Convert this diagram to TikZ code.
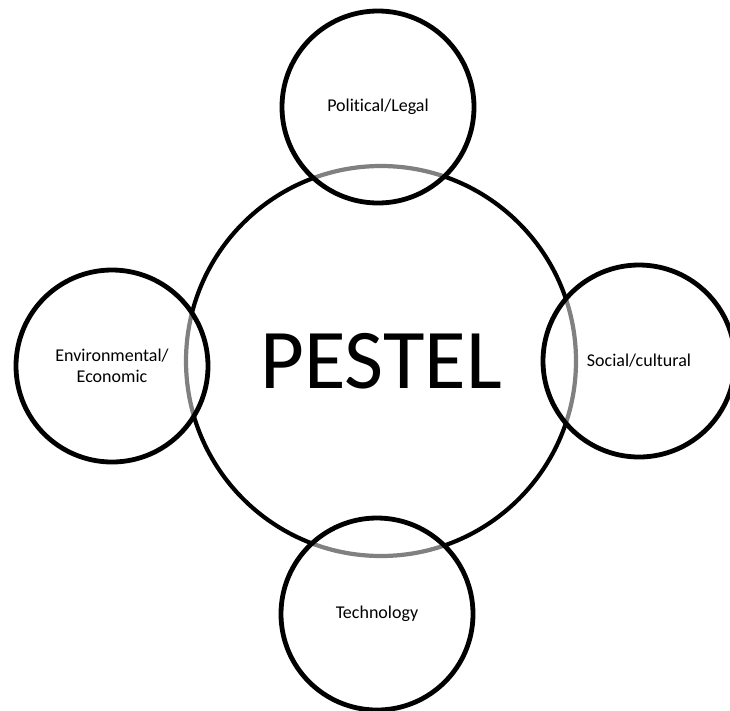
\documentclass[tikz,border=0pt]{standalone}
\usepackage{fontspec}
\setmainfont{Carlito}[Ligatures=NoCommon]
\begin{document}
\begin{tikzpicture}[x=1pt,y=-1pt,
  bigc/.style={circle, draw=black, line width=4.2pt, minimum size=390pt, inner sep=0pt,
    font=\fontsize{85}{100}\selectfont},
  smallc/.style={circle, draw=black, line width=4.8pt, fill=white, fill opacity=0.5,
    text opacity=1, minimum size=192pt, inner sep=0pt, align=center,
    font=\fontsize{18}{21}\selectfont}]
\clip (0,0) rectangle (730,710);
\fill[white] (0,0) rectangle (730,710);
\node[bigc] (pestel) at (381,361) {PESTEL};
\node[smallc] (pol) at (378,107) {Political/Legal};
\node[smallc] (env) at (112,366) {Environmental/\\Economic};
\node[smallc] (soc) at (639,361) {Social/cultural};
\node[smallc] (tech) at (377,614) {Technology};
\end{tikzpicture}
\end{document}
